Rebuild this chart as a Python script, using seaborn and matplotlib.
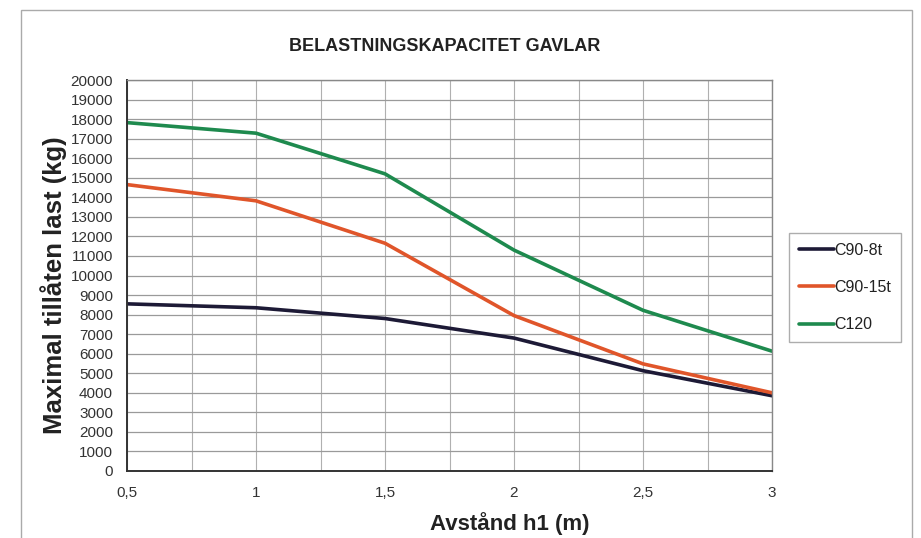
import matplotlib
matplotlib.use("Agg")
import matplotlib.pyplot as plt
import seaborn as sns
import pandas as pd
from matplotlib.patches import Rectangle
from matplotlib.lines import Line2D
from matplotlib.ticker import MultipleLocator, FixedLocator

# Data
x_values = [0.5, 1.0, 1.5, 2.0, 2.5, 3.0]
series_names = ["C90-8t", "C90-15t", "C120"]
c90_8t = [8550, 8350, 7800, 6800, 5130, 3850]
c90_15t = [14650, 13820, 11650, 7950, 5480, 4000]
c120 = [17820, 17280, 15200, 11300, 8220, 6130]
x_tick_labels = ["0,5", "1", "1,5", "2", "2,5", "3"]
colors = ["#1d1a36", "#e0552a", "#1e8a4e"]

rows = []
for name, vals in zip(series_names, [c90_8t, c90_15t, c120]):
    for x, v in zip(x_values, vals):
        rows.append({"x": x, "y": v, "serie": name})
df = pd.DataFrame(rows)

sns.set_theme(style="white")
plt.rcParams["font.family"] = ["Liberation Sans", "DejaVu Sans"]

fig = plt.figure(figsize=(9.21, 5.38), dpi=100)
ax = fig.add_axes([127/921, 1-471/538, (772-127)/921, (471-80)/538])

sns.lineplot(data=df, x="x", y="y", hue="serie", hue_order=series_names,
             palette=dict(zip(series_names, colors)), linewidth=2.6, ax=ax,
             legend=False)

ax.set_xlim(0.5, 3.0)
ax.set_ylim(0, 20000)
ax.yaxis.set_major_locator(MultipleLocator(1000))
ax.xaxis.set_major_locator(FixedLocator(x_values))
ax.set_xticklabels(x_tick_labels)
ax.xaxis.set_minor_locator(MultipleLocator(0.25))
ax.grid(True, which="major", axis="y", color="#9a9a9a", linewidth=0.9)
ax.grid(True, which="both", axis="x", color="#b0b0b0", linewidth=0.8)
ax.set_axisbelow(True)

ax.tick_params(axis="both", which="both", direction="out", length=4,
               color="#555555", labelsize=11, labelcolor="#333333", width=0.8)
ax.tick_params(axis="x", which="major", pad=7)
ax.tick_params(axis="y", pad=6)

for side in ["left", "bottom"]:
    ax.spines[side].set_color("#333333")
    ax.spines[side].set_linewidth(1.4)
for side in ["top", "right"]:
    ax.spines[side].set_color("#888888")
    ax.spines[side].set_linewidth(1.0)

ax.set_xlabel("Avstånd h1 (m)", fontsize=16, fontweight="bold", color="#222222")
ax.xaxis.set_label_coords((510-127)/645, -(524-471)/391)
ax.xaxis.label.set_va("center")
ax.set_ylabel("Maximal tillåten last (kg)", fontsize=18.5, fontweight="bold", color="#222222")
ax.yaxis.set_label_coords(-(127-54)/645, (471-285)/391)
ax.yaxis.label.set_va("center")
ax.set_title("BELASTNINGSKAPACITET GAVLAR", fontsize=13, fontweight="bold",
             color="#222222", pad=21, x=(445-127)/645)

# Legend
handles = [Line2D([], [], color=c, linewidth=2.6) for c in colors]
leg = fig.legend(handles, series_names, loc="upper left",
                 bbox_to_anchor=(789/921, 1-233/538), frameon=True,
                 fontsize=11.5, labelspacing=1.4, handlelength=2.2,
                 handletextpad=0.05, borderpad=0.6, fancybox=False,
                 borderaxespad=0)
leg.get_frame().set_edgecolor("#999999")
leg.get_frame().set_linewidth(1.0)
for t in leg.get_texts():
    t.set_color("#222222")

# Outer chart border
fig.patches.append(Rectangle((21/921, -0.01), (912-21)/921, 1.01-10/538,
                             transform=fig.transFigure, fill=False,
                             edgecolor="#aaaaaa", linewidth=1.0))

fig.savefig("out.png", dpi=100)
